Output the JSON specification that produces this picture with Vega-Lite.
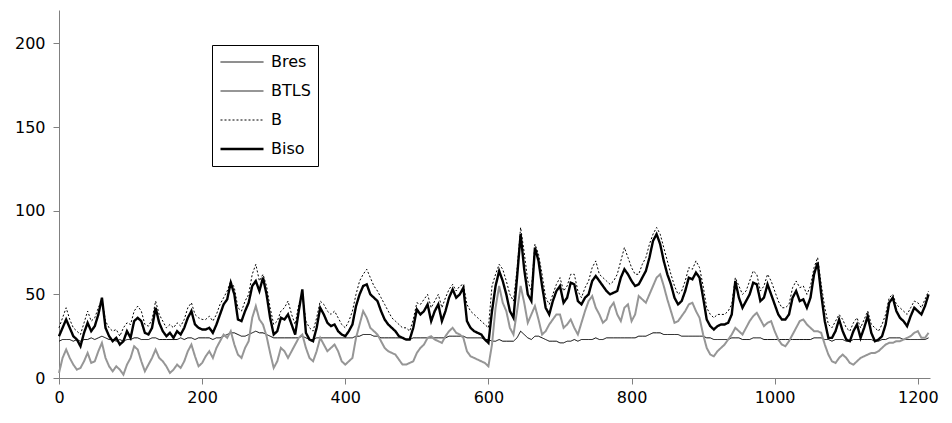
{
  "$schema": "https://vega.github.io/schema/vega-lite/v6.json",
  "width": 871,
  "height": 368,
  "autosize": {"type": "none"},
  "padding": {"left": 59, "top": 10, "right": 22, "bottom": 45},
  "background": "white",
  "config": {
    "view": {"stroke": null},
    "font": "DejaVu Sans",
    "axis": {
      "domainColor": "#808080",
      "tickColor": "#808080",
      "tickSize": 6,
      "labelFont": "DejaVu Sans",
      "labelFontSize": 16,
      "labelColor": "black",
      "grid": false,
      "title": null,
      "labelFlush": false,
      "labelOverlap": false
    }
  },
  "data": {
    "values": [
      {"x":0,"Bres":22,"BTLS":3,"B":30,"Biso":25},
      {"x":5,"Bres":23,"BTLS":12,"B":36,"Biso":30},
      {"x":10,"Bres":23,"BTLS":17,"B":42,"Biso":35},
      {"x":15,"Bres":23,"BTLS":12,"B":35,"Biso":30},
      {"x":20,"Bres":22,"BTLS":8,"B":30,"Biso":25},
      {"x":25,"Bres":23,"BTLS":5,"B":28,"Biso":23},
      {"x":30,"Bres":22,"BTLS":6,"B":26,"Biso":19},
      {"x":35,"Bres":23,"BTLS":10,"B":33,"Biso":27},
      {"x":40,"Bres":23,"BTLS":15,"B":40,"Biso":33},
      {"x":45,"Bres":24,"BTLS":9,"B":34,"Biso":28},
      {"x":50,"Bres":23,"BTLS":10,"B":36,"Biso":31},
      {"x":55,"Bres":24,"BTLS":16,"B":42,"Biso":38},
      {"x":60,"Bres":25,"BTLS":21,"B":47,"Biso":48},
      {"x":65,"Bres":24,"BTLS":12,"B":34,"Biso":30},
      {"x":70,"Bres":23,"BTLS":7,"B":30,"Biso":25},
      {"x":75,"Bres":23,"BTLS":4,"B":28,"Biso":22},
      {"x":80,"Bres":22,"BTLS":7,"B":29,"Biso":24},
      {"x":85,"Bres":23,"BTLS":5,"B":25,"Biso":20},
      {"x":90,"Bres":22,"BTLS":2,"B":30,"Biso":22},
      {"x":95,"Bres":23,"BTLS":8,"B":33,"Biso":28},
      {"x":100,"Bres":23,"BTLS":12,"B":32,"Biso":24},
      {"x":105,"Bres":24,"BTLS":19,"B":40,"Biso":34},
      {"x":110,"Bres":24,"BTLS":17,"B":43,"Biso":36},
      {"x":115,"Bres":23,"BTLS":10,"B":40,"Biso":34},
      {"x":120,"Bres":23,"BTLS":4,"B":32,"Biso":27},
      {"x":125,"Bres":23,"BTLS":8,"B":31,"Biso":26},
      {"x":130,"Bres":24,"BTLS":12,"B":35,"Biso":30},
      {"x":135,"Bres":24,"BTLS":17,"B":46,"Biso":42},
      {"x":140,"Bres":23,"BTLS":12,"B":38,"Biso":33},
      {"x":145,"Bres":23,"BTLS":10,"B":34,"Biso":28},
      {"x":150,"Bres":23,"BTLS":7,"B":30,"Biso":25},
      {"x":155,"Bres":23,"BTLS":3,"B":32,"Biso":27},
      {"x":160,"Bres":23,"BTLS":5,"B":30,"Biso":24},
      {"x":165,"Bres":23,"BTLS":8,"B":33,"Biso":28},
      {"x":170,"Bres":24,"BTLS":6,"B":31,"Biso":26},
      {"x":175,"Bres":23,"BTLS":10,"B":35,"Biso":30},
      {"x":180,"Bres":24,"BTLS":16,"B":42,"Biso":36},
      {"x":185,"Bres":24,"BTLS":20,"B":45,"Biso":40},
      {"x":190,"Bres":23,"BTLS":13,"B":38,"Biso":32},
      {"x":195,"Bres":24,"BTLS":7,"B":36,"Biso":30},
      {"x":200,"Bres":24,"BTLS":9,"B":35,"Biso":29},
      {"x":205,"Bres":24,"BTLS":13,"B":35,"Biso":29},
      {"x":210,"Bres":24,"BTLS":16,"B":37,"Biso":30},
      {"x":215,"Bres":23,"BTLS":12,"B":34,"Biso":27},
      {"x":220,"Bres":24,"BTLS":18,"B":38,"Biso":32},
      {"x":225,"Bres":24,"BTLS":22,"B":44,"Biso":38},
      {"x":230,"Bres":25,"BTLS":26,"B":48,"Biso":44},
      {"x":235,"Bres":26,"BTLS":24,"B":52,"Biso":47},
      {"x":240,"Bres":27,"BTLS":28,"B":58,"Biso":57},
      {"x":245,"Bres":27,"BTLS":20,"B":54,"Biso":50},
      {"x":250,"Bres":26,"BTLS":14,"B":42,"Biso":35},
      {"x":255,"Bres":25,"BTLS":12,"B":40,"Biso":34},
      {"x":260,"Bres":25,"BTLS":18,"B":46,"Biso":40},
      {"x":265,"Bres":26,"BTLS":22,"B":50,"Biso":45},
      {"x":270,"Bres":27,"BTLS":36,"B":62,"Biso":55},
      {"x":275,"Bres":28,"BTLS":43,"B":68,"Biso":58},
      {"x":280,"Bres":27,"BTLS":35,"B":58,"Biso":52},
      {"x":285,"Bres":27,"BTLS":32,"B":62,"Biso":60},
      {"x":290,"Bres":26,"BTLS":25,"B":55,"Biso":50},
      {"x":295,"Bres":25,"BTLS":15,"B":42,"Biso":36},
      {"x":300,"Bres":24,"BTLS":6,"B":32,"Biso":26},
      {"x":305,"Bres":24,"BTLS":10,"B":34,"Biso":28},
      {"x":310,"Bres":24,"BTLS":18,"B":40,"Biso":36},
      {"x":315,"Bres":24,"BTLS":16,"B":42,"Biso":35},
      {"x":320,"Bres":24,"BTLS":12,"B":46,"Biso":38},
      {"x":325,"Bres":24,"BTLS":16,"B":38,"Biso":32},
      {"x":330,"Bres":24,"BTLS":20,"B":32,"Biso":26},
      {"x":335,"Bres":24,"BTLS":24,"B":44,"Biso":40},
      {"x":340,"Bres":25,"BTLS":26,"B":50,"Biso":53},
      {"x":345,"Bres":24,"BTLS":18,"B":34,"Biso":27},
      {"x":350,"Bres":23,"BTLS":12,"B":30,"Biso":23},
      {"x":355,"Bres":23,"BTLS":10,"B":28,"Biso":22},
      {"x":360,"Bres":24,"BTLS":16,"B":36,"Biso":30},
      {"x":365,"Bres":24,"BTLS":24,"B":46,"Biso":42},
      {"x":370,"Bres":24,"BTLS":20,"B":44,"Biso":38},
      {"x":375,"Bres":24,"BTLS":16,"B":40,"Biso":33},
      {"x":380,"Bres":24,"BTLS":18,"B":38,"Biso":31},
      {"x":385,"Bres":24,"BTLS":20,"B":40,"Biso":32},
      {"x":390,"Bres":24,"BTLS":16,"B":36,"Biso":28},
      {"x":395,"Bres":24,"BTLS":10,"B":32,"Biso":26},
      {"x":400,"Bres":24,"BTLS":8,"B":30,"Biso":25},
      {"x":405,"Bres":24,"BTLS":10,"B":34,"Biso":28},
      {"x":410,"Bres":24,"BTLS":12,"B":40,"Biso":32},
      {"x":415,"Bres":25,"BTLS":24,"B":50,"Biso":43},
      {"x":420,"Bres":25,"BTLS":32,"B":58,"Biso":50},
      {"x":425,"Bres":26,"BTLS":40,"B":62,"Biso":55},
      {"x":430,"Bres":26,"BTLS":36,"B":65,"Biso":56},
      {"x":435,"Bres":26,"BTLS":30,"B":60,"Biso":50},
      {"x":440,"Bres":25,"BTLS":28,"B":55,"Biso":48},
      {"x":445,"Bres":25,"BTLS":26,"B":52,"Biso":46},
      {"x":450,"Bres":24,"BTLS":22,"B":48,"Biso":40},
      {"x":455,"Bres":24,"BTLS":18,"B":44,"Biso":35},
      {"x":460,"Bres":24,"BTLS":16,"B":40,"Biso":32},
      {"x":465,"Bres":24,"BTLS":15,"B":36,"Biso":30},
      {"x":470,"Bres":24,"BTLS":14,"B":34,"Biso":28},
      {"x":475,"Bres":24,"BTLS":11,"B":32,"Biso":25},
      {"x":480,"Bres":24,"BTLS":8,"B":30,"Biso":24},
      {"x":485,"Bres":23,"BTLS":8,"B":30,"Biso":23},
      {"x":490,"Bres":23,"BTLS":9,"B":28,"Biso":23},
      {"x":495,"Bres":24,"BTLS":10,"B":35,"Biso":30},
      {"x":500,"Bres":24,"BTLS":15,"B":45,"Biso":41},
      {"x":505,"Bres":24,"BTLS":18,"B":44,"Biso":38},
      {"x":510,"Bres":24,"BTLS":20,"B":47,"Biso":40},
      {"x":515,"Bres":24,"BTLS":24,"B":50,"Biso":44},
      {"x":520,"Bres":24,"BTLS":25,"B":42,"Biso":34},
      {"x":525,"Bres":24,"BTLS":23,"B":46,"Biso":40},
      {"x":530,"Bres":24,"BTLS":22,"B":50,"Biso":44},
      {"x":535,"Bres":24,"BTLS":21,"B":42,"Biso":34},
      {"x":540,"Bres":24,"BTLS":25,"B":48,"Biso":40},
      {"x":545,"Bres":25,"BTLS":28,"B":53,"Biso":48},
      {"x":550,"Bres":25,"BTLS":30,"B":56,"Biso":53},
      {"x":555,"Bres":25,"BTLS":27,"B":52,"Biso":48},
      {"x":560,"Bres":25,"BTLS":26,"B":55,"Biso":50},
      {"x":565,"Bres":25,"BTLS":24,"B":56,"Biso":54},
      {"x":570,"Bres":24,"BTLS":16,"B":44,"Biso":34},
      {"x":575,"Bres":24,"BTLS":13,"B":40,"Biso":30},
      {"x":580,"Bres":24,"BTLS":12,"B":38,"Biso":28},
      {"x":585,"Bres":24,"BTLS":11,"B":36,"Biso":27},
      {"x":590,"Bres":24,"BTLS":10,"B":34,"Biso":26},
      {"x":595,"Bres":23,"BTLS":9,"B":32,"Biso":23},
      {"x":600,"Bres":23,"BTLS":7,"B":30,"Biso":21},
      {"x":605,"Bres":22,"BTLS":20,"B":55,"Biso":40},
      {"x":610,"Bres":22,"BTLS":42,"B":62,"Biso":55},
      {"x":615,"Bres":23,"BTLS":55,"B":68,"Biso":64},
      {"x":620,"Bres":22,"BTLS":45,"B":65,"Biso":58},
      {"x":625,"Bres":22,"BTLS":40,"B":58,"Biso":50},
      {"x":630,"Bres":22,"BTLS":30,"B":50,"Biso":40},
      {"x":635,"Bres":22,"BTLS":26,"B":46,"Biso":36},
      {"x":640,"Bres":24,"BTLS":40,"B":65,"Biso":60},
      {"x":645,"Bres":28,"BTLS":55,"B":90,"Biso":86},
      {"x":650,"Bres":26,"BTLS":45,"B":75,"Biso":65},
      {"x":655,"Bres":24,"BTLS":33,"B":58,"Biso":50},
      {"x":660,"Bres":23,"BTLS":38,"B":52,"Biso":46},
      {"x":665,"Bres":25,"BTLS":43,"B":80,"Biso":78},
      {"x":670,"Bres":25,"BTLS":35,"B":74,"Biso":70},
      {"x":675,"Bres":24,"BTLS":26,"B":62,"Biso":55},
      {"x":680,"Bres":23,"BTLS":28,"B":48,"Biso":42},
      {"x":685,"Bres":22,"BTLS":32,"B":44,"Biso":38},
      {"x":690,"Bres":22,"BTLS":35,"B":50,"Biso":46},
      {"x":695,"Bres":22,"BTLS":38,"B":56,"Biso":52},
      {"x":700,"Bres":21,"BTLS":38,"B":60,"Biso":55},
      {"x":705,"Bres":21,"BTLS":30,"B":52,"Biso":45},
      {"x":710,"Bres":22,"BTLS":32,"B":55,"Biso":48},
      {"x":715,"Bres":22,"BTLS":35,"B":62,"Biso":57},
      {"x":720,"Bres":23,"BTLS":30,"B":62,"Biso":56},
      {"x":725,"Bres":22,"BTLS":26,"B":52,"Biso":46},
      {"x":730,"Bres":23,"BTLS":33,"B":48,"Biso":44},
      {"x":735,"Bres":23,"BTLS":40,"B":54,"Biso":48},
      {"x":740,"Bres":23,"BTLS":46,"B":58,"Biso":50},
      {"x":745,"Bres":23,"BTLS":49,"B":66,"Biso":58},
      {"x":750,"Bres":24,"BTLS":42,"B":70,"Biso":61},
      {"x":755,"Bres":23,"BTLS":38,"B":62,"Biso":58},
      {"x":760,"Bres":23,"BTLS":33,"B":60,"Biso":55},
      {"x":765,"Bres":24,"BTLS":35,"B":58,"Biso":52},
      {"x":770,"Bres":24,"BTLS":42,"B":56,"Biso":50},
      {"x":775,"Bres":24,"BTLS":45,"B":58,"Biso":51},
      {"x":780,"Bres":24,"BTLS":38,"B":62,"Biso":52},
      {"x":785,"Bres":24,"BTLS":34,"B":70,"Biso":60},
      {"x":790,"Bres":24,"BTLS":42,"B":78,"Biso":65},
      {"x":795,"Bres":24,"BTLS":44,"B":72,"Biso":62},
      {"x":800,"Bres":24,"BTLS":34,"B":66,"Biso":58},
      {"x":805,"Bres":24,"BTLS":38,"B":62,"Biso":55},
      {"x":810,"Bres":25,"BTLS":49,"B":62,"Biso":56},
      {"x":815,"Bres":25,"BTLS":47,"B":68,"Biso":60},
      {"x":820,"Bres":25,"BTLS":45,"B":72,"Biso":64},
      {"x":825,"Bres":26,"BTLS":50,"B":80,"Biso":72},
      {"x":830,"Bres":27,"BTLS":55,"B":86,"Biso":82},
      {"x":835,"Bres":27,"BTLS":60,"B":90,"Biso":86},
      {"x":840,"Bres":27,"BTLS":62,"B":86,"Biso":80},
      {"x":845,"Bres":26,"BTLS":55,"B":78,"Biso":70},
      {"x":850,"Bres":26,"BTLS":47,"B":70,"Biso":62},
      {"x":855,"Bres":26,"BTLS":40,"B":62,"Biso":56},
      {"x":860,"Bres":26,"BTLS":33,"B":55,"Biso":48},
      {"x":865,"Bres":26,"BTLS":34,"B":50,"Biso":44},
      {"x":870,"Bres":25,"BTLS":37,"B":52,"Biso":46},
      {"x":875,"Bres":25,"BTLS":40,"B":58,"Biso":52},
      {"x":880,"Bres":25,"BTLS":44,"B":66,"Biso":60},
      {"x":885,"Bres":25,"BTLS":45,"B":65,"Biso":59},
      {"x":890,"Bres":25,"BTLS":40,"B":70,"Biso":63},
      {"x":895,"Bres":25,"BTLS":36,"B":66,"Biso":60},
      {"x":900,"Bres":25,"BTLS":26,"B":55,"Biso":48},
      {"x":905,"Bres":24,"BTLS":18,"B":42,"Biso":35},
      {"x":910,"Bres":24,"BTLS":14,"B":38,"Biso":31},
      {"x":915,"Bres":23,"BTLS":13,"B":36,"Biso":29},
      {"x":920,"Bres":23,"BTLS":16,"B":38,"Biso":31},
      {"x":925,"Bres":23,"BTLS":18,"B":38,"Biso":32},
      {"x":930,"Bres":23,"BTLS":20,"B":38,"Biso":32},
      {"x":935,"Bres":23,"BTLS":23,"B":40,"Biso":33},
      {"x":940,"Bres":24,"BTLS":26,"B":44,"Biso":38},
      {"x":945,"Bres":24,"BTLS":30,"B":60,"Biso":58},
      {"x":950,"Bres":24,"BTLS":28,"B":55,"Biso":48},
      {"x":955,"Bres":23,"BTLS":26,"B":50,"Biso":42},
      {"x":960,"Bres":23,"BTLS":30,"B":52,"Biso":46},
      {"x":965,"Bres":23,"BTLS":34,"B":58,"Biso":50},
      {"x":970,"Bres":24,"BTLS":37,"B":64,"Biso":57},
      {"x":975,"Bres":24,"BTLS":39,"B":62,"Biso":56},
      {"x":980,"Bres":24,"BTLS":35,"B":52,"Biso":46},
      {"x":985,"Bres":23,"BTLS":31,"B":55,"Biso":48},
      {"x":990,"Bres":23,"BTLS":33,"B":62,"Biso":56},
      {"x":995,"Bres":23,"BTLS":34,"B":58,"Biso":50},
      {"x":1000,"Bres":23,"BTLS":28,"B":52,"Biso":44},
      {"x":1005,"Bres":23,"BTLS":23,"B":46,"Biso":38},
      {"x":1010,"Bres":23,"BTLS":20,"B":42,"Biso":35},
      {"x":1015,"Bres":23,"BTLS":19,"B":42,"Biso":35},
      {"x":1020,"Bres":23,"BTLS":22,"B":44,"Biso":38},
      {"x":1025,"Bres":23,"BTLS":26,"B":54,"Biso":48},
      {"x":1030,"Bres":23,"BTLS":30,"B":58,"Biso":52},
      {"x":1035,"Bres":23,"BTLS":34,"B":54,"Biso":46},
      {"x":1040,"Bres":23,"BTLS":35,"B":55,"Biso":47},
      {"x":1045,"Bres":23,"BTLS":32,"B":50,"Biso":42},
      {"x":1050,"Bres":23,"BTLS":30,"B":55,"Biso":48},
      {"x":1055,"Bres":24,"BTLS":28,"B":66,"Biso":62},
      {"x":1060,"Bres":24,"BTLS":28,"B":72,"Biso":69},
      {"x":1065,"Bres":24,"BTLS":27,"B":56,"Biso":50},
      {"x":1070,"Bres":23,"BTLS":20,"B":42,"Biso":34},
      {"x":1075,"Bres":23,"BTLS":14,"B":32,"Biso":24},
      {"x":1080,"Bres":22,"BTLS":10,"B":30,"Biso":24},
      {"x":1085,"Bres":23,"BTLS":9,"B":34,"Biso":28},
      {"x":1090,"Bres":23,"BTLS":12,"B":38,"Biso":35},
      {"x":1095,"Bres":23,"BTLS":14,"B":35,"Biso":28},
      {"x":1100,"Bres":22,"BTLS":12,"B":30,"Biso":23},
      {"x":1105,"Bres":22,"BTLS":9,"B":28,"Biso":22},
      {"x":1110,"Bres":23,"BTLS":8,"B":33,"Biso":28},
      {"x":1115,"Bres":23,"BTLS":10,"B":36,"Biso":32},
      {"x":1120,"Bres":23,"BTLS":12,"B":30,"Biso":24},
      {"x":1125,"Bres":23,"BTLS":13,"B":35,"Biso":30},
      {"x":1130,"Bres":23,"BTLS":14,"B":40,"Biso":37},
      {"x":1135,"Bres":23,"BTLS":15,"B":32,"Biso":27},
      {"x":1140,"Bres":22,"BTLS":15,"B":30,"Biso":22},
      {"x":1145,"Bres":22,"BTLS":16,"B":28,"Biso":23},
      {"x":1150,"Bres":23,"BTLS":18,"B":32,"Biso":25},
      {"x":1155,"Bres":23,"BTLS":20,"B":38,"Biso":32},
      {"x":1160,"Bres":24,"BTLS":21,"B":48,"Biso":45},
      {"x":1165,"Bres":24,"BTLS":21,"B":50,"Biso":48},
      {"x":1170,"Bres":24,"BTLS":22,"B":44,"Biso":40},
      {"x":1175,"Bres":24,"BTLS":22,"B":42,"Biso":36},
      {"x":1180,"Bres":23,"BTLS":23,"B":40,"Biso":34},
      {"x":1185,"Bres":23,"BTLS":24,"B":38,"Biso":31},
      {"x":1190,"Bres":23,"BTLS":25,"B":42,"Biso":37},
      {"x":1195,"Bres":23,"BTLS":27,"B":46,"Biso":42},
      {"x":1200,"Bres":23,"BTLS":28,"B":45,"Biso":40},
      {"x":1205,"Bres":23,"BTLS":24,"B":42,"Biso":38},
      {"x":1210,"Bres":23,"BTLS":24,"B":47,"Biso":43},
      {"x":1215,"Bres":24,"BTLS":27,"B":52,"Biso":50}
    ]
  },
  "transform": [{"fold": ["Bres", "BTLS", "B", "Biso"], "as": ["series", "value"]}],
  "mark": {"type": "line", "interpolate": "linear"},
  "encoding": {
    "x": {
      "field": "x",
      "type": "quantitative",
      "scale": {"domain": [0, 1217], "nice": false, "zero": true},
      "axis": {"values": [0, 200, 400, 600, 800, 1000, 1200], "format": "d", "labelPadding": 5}
    },
    "y": {
      "field": "value",
      "type": "quantitative",
      "scale": {"domain": [0, 220], "nice": false},
      "axis": {"values": [0, 50, 100, 150, 200], "format": "d", "labelPadding": 8}
    },
    "color": {
      "field": "series",
      "type": "nominal",
      "scale": {"domain": ["Bres", "BTLS", "B", "Biso"], "range": ["#000000", "#969696", "#000000", "#000000"]},
      "legend": {
        "orient": "none",
        "legendX": 153,
        "legendY": 35,
        "title": null,
        "strokeColor": "black",
        "fillColor": "white",
        "padding": 7,
        "symbolType": "stroke",
        "symbolSize": 1849,
        "clipHeight": 20,
        "rowPadding": 9,
        "labelFont": "DejaVu Sans",
        "labelFontSize": 16,
        "labelColor": "black",
        "labelOffset": 6
      }
    },
    "strokeDash": {
      "field": "series",
      "type": "nominal",
      "scale": {"domain": ["Bres", "BTLS", "B", "Biso"], "range": [[1, 0], [1, 0], [2, 2], [1, 0]]}
    },
    "strokeWidth": {
      "field": "series",
      "type": "nominal",
      "scale": {"type": "ordinal", "domain": ["Bres", "BTLS", "B", "Biso"], "range": [1, 2, 1, 2.4]}
    }
  }
}
